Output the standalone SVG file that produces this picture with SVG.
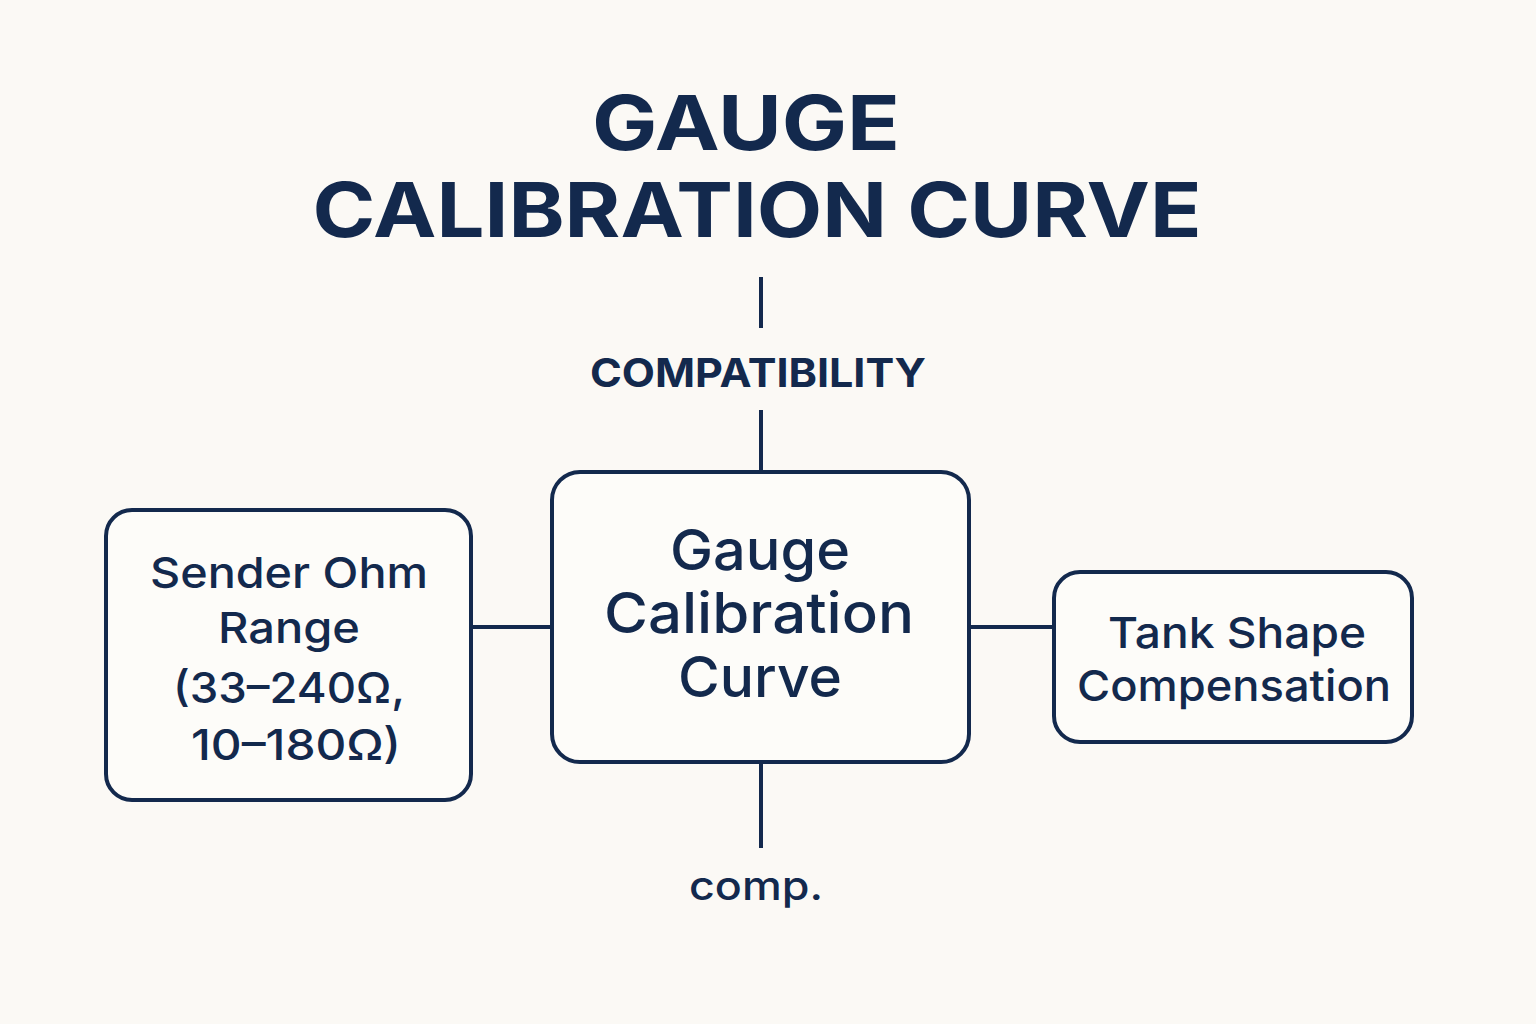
<svg xmlns="http://www.w3.org/2000/svg" width="1536" height="1024" viewBox="0 0 1536 1024">
<style>
text{font-family:"Inter","Liberation Sans",sans-serif;fill:#13294d;text-anchor:middle}
.t{font-weight:700;font-size:76px}
.box{fill:#fdfcf9;stroke:#13294d;stroke-width:4}
.c{stroke:#13294d;stroke-width:4;fill:none}
</style>
<rect width="1536" height="1024" fill="#fbf9f5"/>
<text class="t" x="746" y="150" textLength="308" lengthAdjust="spacingAndGlyphs">GAUGE</text>
<text class="t" x="757" y="237" textLength="889" lengthAdjust="spacingAndGlyphs">CALIBRATION CURVE</text>
<g id="connectors">
<line class="c" x1="761" y1="277" x2="761" y2="328"/>
<line class="c" x1="761" y1="410" x2="761" y2="472"/>
<line class="c" x1="471" y1="627" x2="552" y2="627"/>
<line class="c" x1="969" y1="627" x2="1054" y2="627"/>
<line class="c" x1="761" y1="762" x2="761" y2="848"/>
</g>
<text x="758" y="387" font-size="40" font-weight="700" textLength="336" lengthAdjust="spacingAndGlyphs">COMPATIBILITY</text>
<text x="756" y="900" font-size="40" font-weight="500" textLength="134" lengthAdjust="spacingAndGlyphs">comp.</text>
<g id="center">
<rect class="box" x="552" y="472" width="417" height="290" rx="28"/>
<text x="760" y="570" font-size="56" font-weight="500" textLength="180" lengthAdjust="spacingAndGlyphs">Gauge</text>
<text x="759" y="633" font-size="56" font-weight="500" textLength="310" lengthAdjust="spacingAndGlyphs">Calibration</text>
<text x="760" y="697" font-size="56" font-weight="500" textLength="164" lengthAdjust="spacingAndGlyphs">Curve</text>
</g>
<g id="left">
<rect class="box" x="106" y="510" width="365" height="290" rx="26"/>
<text x="289" y="588" font-size="43" font-weight="500" textLength="278" lengthAdjust="spacingAndGlyphs">Sender Ohm</text>
<text x="289" y="643" font-size="43" font-weight="500" textLength="142" lengthAdjust="spacingAndGlyphs">Range</text>
<text x="289" y="703" font-size="43" font-weight="500" textLength="232" lengthAdjust="spacingAndGlyphs">(33–240Ω,</text>
<text x="296" y="760" font-size="43" font-weight="500" textLength="210" lengthAdjust="spacingAndGlyphs">10–180Ω)</text>
</g>
<g id="right">
<rect class="box" x="1054" y="572" width="358" height="170" rx="26"/>
<text x="1237" y="648" font-size="43" font-weight="500" textLength="258" lengthAdjust="spacingAndGlyphs">Tank Shape</text>
<text x="1234" y="701" font-size="43" font-weight="500" textLength="314" lengthAdjust="spacingAndGlyphs">Compensation</text>
</g>
</svg>
